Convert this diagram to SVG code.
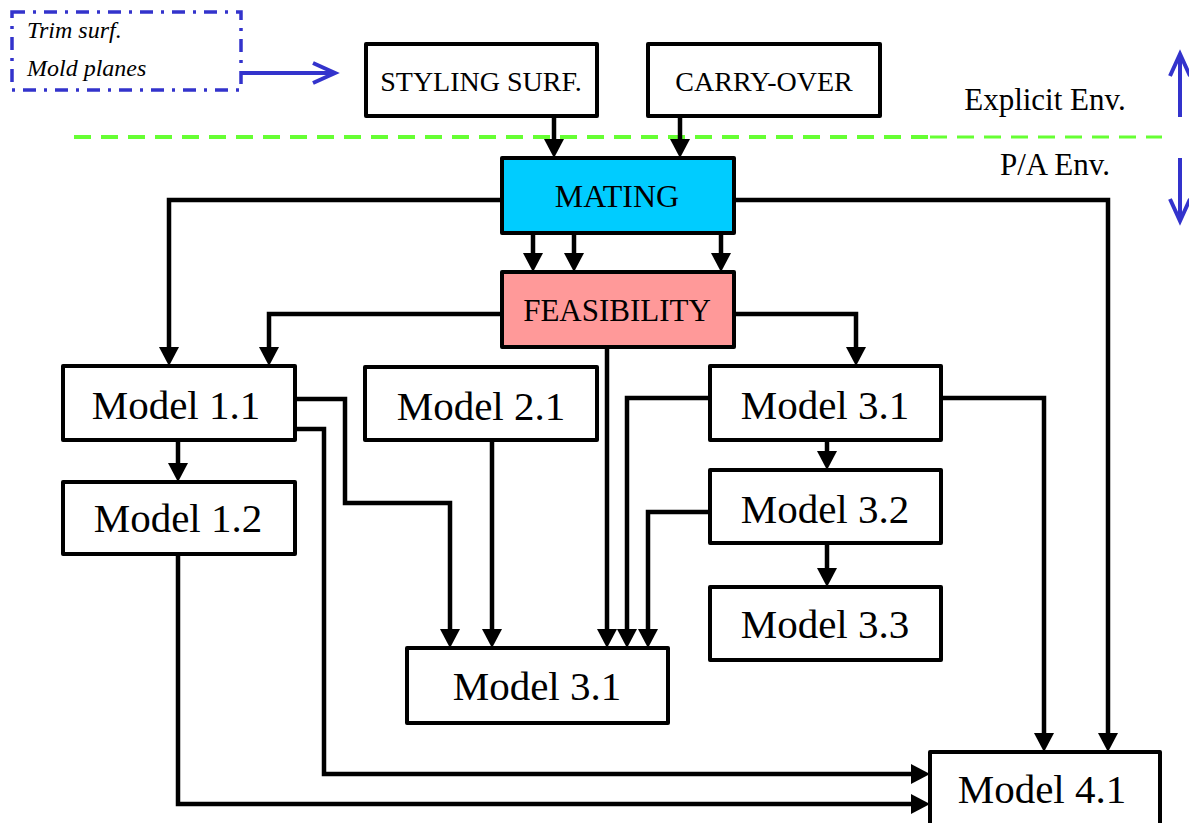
<svg xmlns="http://www.w3.org/2000/svg" width="1189" height="823" viewBox="0 0 1189 823">
<style>
.box{fill:#fff;stroke:#000;stroke-width:4;stroke-linejoin:round}
.t{font-family:"Liberation Serif","Times New Roman",serif;fill:#000;text-anchor:middle}
.m{font-size:41px}
.s{font-size:28px}
.e{font-size:31px}
.c{fill:none;stroke:#000;stroke-width:4.5;stroke-linejoin:miter}
.blue{fill:none;stroke:#3333CC;stroke-width:4}
</style>
<defs>
<marker id="ah" viewBox="0 0 19 20" refX="9" refY="10" markerWidth="19" markerHeight="20" markerUnits="userSpaceOnUse" orient="auto">
<path d="M0,0 L19,10 L0,20 z" fill="#000"/>
</marker>
</defs>
<rect width="1189" height="823" fill="#fff"/>

<g id="env-divider">
<line x1="74" y1="137" x2="930" y2="137" stroke="#66FF33" stroke-width="4" stroke-dasharray="17,10"/>
<line x1="930" y1="137" x2="1162" y2="137" stroke="#66FF33" stroke-width="3" stroke-dasharray="17,10"/>
</g>

<g id="input-box">
<rect x="12" y="12" width="229" height="78" fill="none" stroke="#3333CC" stroke-width="3.5" stroke-dasharray="13,8,3,8"/>
<text x="27" y="38" font-family="Liberation Serif,serif" font-style="italic" font-size="24">Trim surf.</text>
<text x="27" y="76" font-family="Liberation Serif,serif" font-style="italic" font-size="24">Mold planes</text>
</g>

<g id="env-labels">
<text class="t e" x="1045" y="110">Explicit Env.</text>
<text class="t e" x="1055" y="175">P/A Env.</text>
<path class="blue" d="M1180,117 V55 M1170,76 L1180,54 L1190,76"/>
<path class="blue" d="M1180,158 V220 M1170,199 L1180,221 L1190,199"/>
</g>

<g id="connectors">
<path class="blue" d="M241,73 H333 M313,63 L335,73 L313,83"/>
<path class="c" marker-end="url(#ah)" d="M554,116 V148"/>
<path class="c" marker-end="url(#ah)" d="M680,116 V148"/>
<path class="c" marker-end="url(#ah)" d="M533,233 V262"/>
<path class="c" marker-end="url(#ah)" d="M574,233 V262"/>
<path class="c" marker-end="url(#ah)" d="M721,233 V262"/>
<path class="c" marker-end="url(#ah)" d="M502,200 H169 V356"/>
<path class="c" marker-end="url(#ah)" d="M734,200 H1108 V742"/>
<path class="c" marker-end="url(#ah)" d="M502,314 H269 V356"/>
<path class="c" marker-end="url(#ah)" d="M734,314 H856 V356"/>
<path class="c" marker-end="url(#ah)" d="M607,347 V638"/>
<path class="c" marker-end="url(#ah)" d="M178,440 V472"/>
<path class="c" marker-end="url(#ah)" d="M295,399 H345 V503 H450 V638"/>
<path class="c" marker-end="url(#ah)" d="M295,429 H324 V774 H920"/>
<path class="c" marker-end="url(#ah)" d="M178,554 V804 H920"/>
<path class="c" marker-end="url(#ah)" d="M492,440 V638"/>
<path class="c" marker-end="url(#ah)" d="M710,398 H627 V638"/>
<path class="c" marker-end="url(#ah)" d="M710,512 H648 V638"/>
<path class="c" marker-end="url(#ah)" d="M827,440 V460"/>
<path class="c" marker-end="url(#ah)" d="M827,543 V577"/>
<path class="c" marker-end="url(#ah)" d="M941,398 H1044 V742"/>
</g>

<g id="styling"><rect class="box" x="366" y="44" width="231" height="72"/><text class="t s" x="481" y="91">STYLING SURF.</text></g>
<g id="carryover"><rect class="box" x="648" y="44" width="232" height="72"/><text class="t s" x="764" y="91">CARRY-OVER</text></g>
<g id="mating"><rect class="box" x="502" y="158" width="232" height="75" style="fill:#00CCFF"/><text class="t" font-size="32" x="617" y="207">MATING</text></g>
<g id="feasibility"><rect class="box" x="502" y="272" width="232" height="75" style="fill:#FF9999"/><text class="t" font-size="31" x="617" y="321">FEASIBILITY</text></g>
<g id="model11"><rect class="box" x="63" y="366" width="232" height="74"/><text class="t m" x="176" y="419">Model 1.1</text></g>
<g id="model12"><rect class="box" x="63" y="482" width="232" height="72"/><text class="t m" x="178" y="532">Model 1.2</text></g>
<g id="model21"><rect class="box" x="365" y="367" width="232" height="73"/><text class="t m" x="481" y="420">Model 2.1</text></g>
<g id="model31r"><rect class="box" x="710" y="366" width="231" height="74"/><text class="t m" x="825" y="419">Model 3.1</text></g>
<g id="model32"><rect class="box" x="710" y="470" width="231" height="73"/><text class="t m" x="825" y="523">Model 3.2</text></g>
<g id="model33"><rect class="box" x="710" y="587" width="231" height="73"/><text class="t m" x="825" y="638">Model 3.3</text></g>
<g id="model31c"><rect class="box" x="407" y="648" width="261" height="75"/><text class="t m" x="537" y="700">Model 3.1</text></g>
<g id="model41"><rect class="box" x="930" y="752" width="230" height="90"/><text class="t m" x="1042" y="803">Model 4.1</text></g>
</svg>
